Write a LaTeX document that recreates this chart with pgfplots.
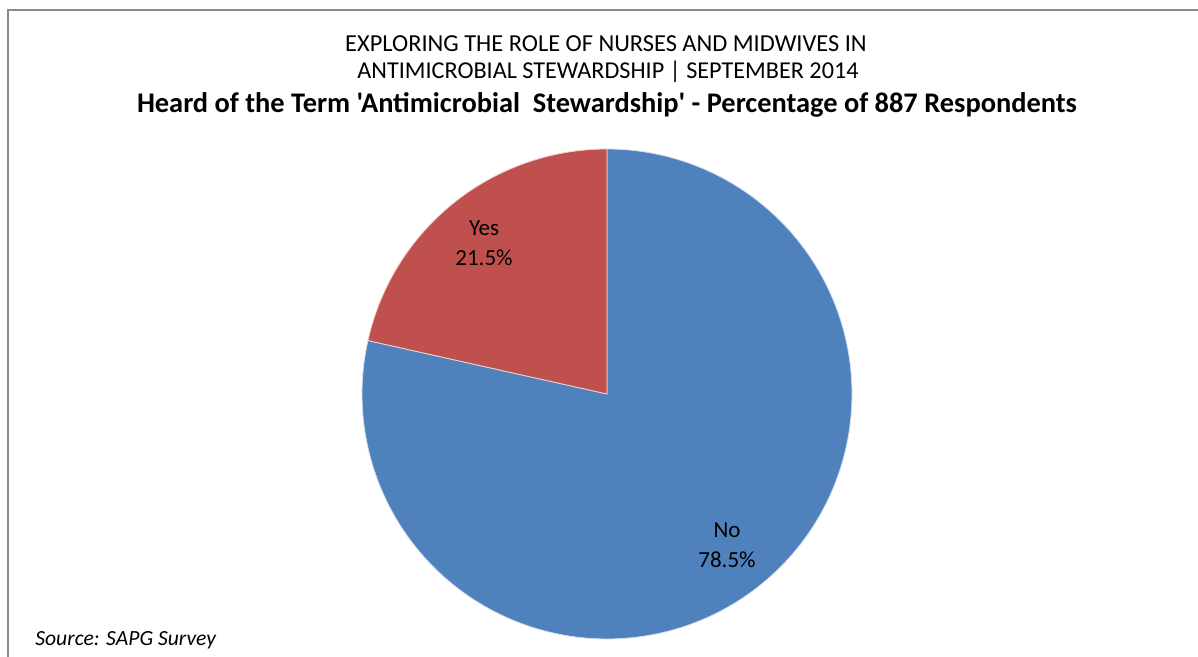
\documentclass[border=0pt]{standalone}
\usepackage{pgfplots}
\pgfplotsset{compat=1.18}
\usepackage{fontspec}
\setmainfont{Carlito}[Ligatures=TeXOff]
\definecolor{pieblue}{HTML}{4F81BD}
\definecolor{piered}{HTML}{C0504D}
\definecolor{framegray}{HTML}{8C8C8C}
% Data: percentage of 887 respondents
\def\yesval{21.5}
\def\noval{78.5}
\pgfmathsetmacro{\yesend}{90+\yesval*3.6}
\pgfmathsetmacro{\noend}{\yesend+\noval*3.6}
\begin{document}
\begin{tikzpicture}[x=0.5pt,y=0.5pt]
\useasboundingbox (0,0) rectangle (1198,657);
\begin{axis}[at={(0,0)}, anchor=south west, scale only axis,
  width=599pt, height=328.5pt, xmin=0, xmax=1198, ymin=0, ymax=657,
  hide axis, clip=false]
% No slice
\addplot[fill=pieblue, draw=white!75!pieblue, line width=0.4pt, domain=\yesend:\noend, samples=200, variable=\t]
  ({607+245*cos(\t)},{263+245*sin(\t)}) -- (axis cs:607,263) -- cycle;
% Yes slice
\addplot[fill=piered, draw=white!75!piered, line width=0.4pt, domain=90:\yesend, samples=80, variable=\t]
  ({607+245*cos(\t)},{263+245*sin(\t)}) -- (axis cs:607,263) -- cycle;
% frame
\draw[framegray, line width=1pt] (axis cs:8,0) -- (axis cs:8,647) -- (axis cs:1198,647);
% titles
\node[font=\fontsize{12.2}{14}\selectfont] at (axis cs:606,613) {EXPLORING THE ROLE OF NURSES AND MIDWIVES IN};
\node[font=\fontsize{12.1}{14}\selectfont] at (axis cs:608,585) {ANTIMICROBIAL STEWARDSHIP | SEPTEMBER 2014};
\node[font=\fontsize{14.2}{16}\selectfont\bfseries] at (axis cs:607,552) {Heard of the Term 'Antimicrobial\ \ Stewardship' - Percentage of 887 Respondents};
% data labels
\node[align=center, font=\fontsize{11.5}{15}\selectfont] at (axis cs:484,414) {Yes\\21.5\%};
\node[align=center, font=\fontsize{11.5}{15}\selectfont] at (axis cs:727,112) {No\\78.5\%};
% source
\node[anchor=west, inner sep=0pt, font=\fontsize{10.8}{12}\selectfont\itshape] at (axis cs:35,17) {Source: SAPG Survey};
\end{axis}
\end{tikzpicture}
\end{document}
